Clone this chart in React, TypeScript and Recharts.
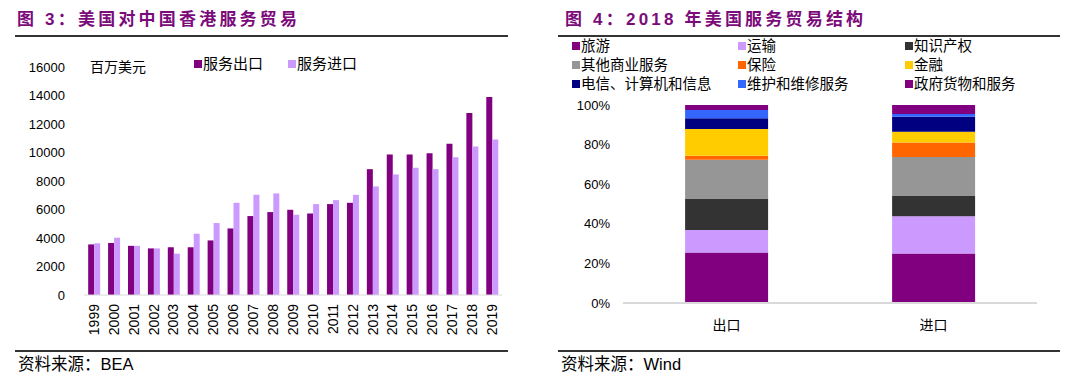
import React from "react";
import { BarChart, Bar, XAxis, YAxis } from "recharts";

// 图3 数据（百万美元）
const years = ["1999", "2000", "2001", "2002", "2003", "2004", "2005", "2006", "2007", "2008", "2009", "2010", "2011", "2012", "2013", "2014", "2015", "2016", "2017", "2018", "2019"];
const exportsHK = [3550, 3650, 3450, 3270, 3350, 3350, 3830, 4670, 5540, 5820, 5980, 5720, 6380, 6470, 8830, 9860, 9860, 9950, 10610, 12780, 13900];
const importsHK = [3630, 4020, 3450, 3270, 2900, 4300, 5050, 6470, 7030, 7130, 5630, 6380, 6660, 7030, 7620, 8460, 8930, 8830, 9670, 10420, 10910];
const leftTicks = [0, 2000, 4000, 6000, 8000, 10000, 12000, 14000, 16000];

// 图4 数据（占比 %）
const flows = ["出口", "进口"];
const sectors = ["旅游", "运输", "知识产权", "其他商业服务", "保险", "金融", "电信、计算机和信息", "维护和维修服务", "政府货物和服务"];
const sectorColors = ["#800080", "#cc99ff", "#333333", "#969696", "#ff6600", "#ffcc00", "#000080", "#3366ff", "#800080"];
const exportShare = [25.5, 11.4, 15.9, 19.6, 2.0, 13.5, 5.4, 4.2, 2.5];
const importShare = [25.0, 18.8, 10.3, 19.6, 7.4, 5.4, 7.6, 1.3, 4.6];
const rightTicks = [0, 0.2, 0.4, 0.6, 0.8, 1];

const FONT = '"Liberation Sans", "Noto Sans CJK SC", sans-serif';
const PURPLE = "#800080";
const LILAC = "#cc99ff";

const leftData = years.map((y, i) => ({ year: y, exp: exportsHK[i], imp: importsHK[i] }));
const rightData = flows.map((f, fi) => {
  const row: any = { flow: f };
  const src = fi === 0 ? exportShare : importShare;
  sectors.forEach((s, i) => (row["s" + i] = src[i]));
  return row;
});

const YearTick = ({ x, y, payload }: any) => (
  <text
    x={x}
    y={y}
    transform={`rotate(-90 ${x} ${y})`}
    textAnchor="end"
    dy="0.35em"
    fontSize={14}
    fill="#000"
    fontFamily={FONT}
  >
    {payload.value}
  </text>
);

const Title = ({ left, text }: { left: number; text: string }) => (
  <div
    style={{
      position: "absolute",
      left,
      top: 8,
      fontSize: 17,
      fontWeight: 700,
      letterSpacing: 3.2,
      color: "#7b0b7b",
      fontFamily: FONT,
      whiteSpace: "nowrap",
      lineHeight: "24px",
    }}
  >
    {text}
  </div>
);

const HLine = ({ left, top, width }: { left: number; top: number; width: number }) => (
  <div style={{ position: "absolute", left, top, width, height: 2, background: "#333" }} />
);

const Source = ({ left, text }: { left: number; text: string }) => (
  <div style={{ position: "absolute", left, top: 354, fontSize: 16.5, fontFamily: FONT, color: "#000", lineHeight: "20px" }}>
    {text}
  </div>
);

const Swatch = ({ color }: { color: string }) => (
  <span style={{ display: "inline-block", width: 8, height: 8, background: color, marginRight: 1, verticalAlign: "middle", position: "relative", top: -1 }} />
);

export default function App() {
  return (
    <div style={{ position: "absolute", left: 0, top: 0, width: 1080, height: 389, background: "#fff", fontFamily: FONT, overflow: "hidden" }}>
      <Title left={17} text="图 3：美国对中国香港服务贸易" />
      <HLine left={15} top={35} width={493} />
      <Title left={565} text="图 4：2018 年美国服务贸易结构" />
      <HLine left={558} top={35} width={502} />

      {/* 左图 */}
      <div style={{ position: "absolute", left: 0, top: 0 }}>
        <BarChart width={540} height={389} data={leftData} margin={{ top: 67, right: 38, bottom: 0, left: 0 }} barGap={0} barCategoryGap="21%">
          <XAxis
            dataKey="year"
            height={94}
            interval={0}
            tick={<YearTick />}
            tickSize={0}
            tickMargin={9}
            axisLine={{ stroke: "#d9d9d9" }}
          />
          <YAxis
            width={84}
            domain={[0, 16000]}
            ticks={leftTicks}
            axisLine={false}
            tickLine={false}
            tickSize={0}
            tickMargin={19}
            tick={{ fontSize: 13, fill: "#000", fontFamily: FONT }}
          />
          <Bar dataKey="exp" fill={PURPLE} isAnimationActive={false} />
          <Bar dataKey="imp" fill={LILAC} isAnimationActive={false} />
        </BarChart>
      </div>
      <div style={{ position: "absolute", left: 90, top: 57, fontSize: 14, lineHeight: "20px", color: "#000" }}>百万美元</div>
      <div style={{ position: "absolute", left: 194, top: 54, fontSize: 15, lineHeight: "20px", color: "#000", whiteSpace: "nowrap" }}>
        <Swatch color={PURPLE} />服务出口
        <span style={{ display: "inline-block", width: 25 }} />
        <Swatch color={LILAC} />服务进口
      </div>

      {/* 右图 */}
      <div style={{ position: "absolute", left: 540, top: 0 }}>
        <BarChart width={540} height={389} data={rightData} stackOffset="expand" margin={{ top: 105, right: 43, bottom: 0, left: 0 }} barCategoryGap="30%">
          <XAxis
            dataKey="flow"
            height={86}
            tickLine={false}
            tickSize={0}
            tickMargin={17}
            axisLine={{ stroke: "#d9d9d9", strokeWidth: 2 }}
            tick={{ fontSize: 14, fill: "#000", fontFamily: FONT }}
          />
          <YAxis
            width={83}
            domain={[0, 1]}
            ticks={rightTicks}
            axisLine={false}
            tickLine={false}
            tickSize={0}
            tickMargin={13}
            tickFormatter={(v: number) => `${Math.round(v * 100)}%`}
            tick={{ fontSize: 13, fill: "#000", fontFamily: FONT }}
          />
          {sectors.map((s, i) => (
            <Bar key={s} dataKey={"s" + i} stackId="a" fill={sectorColors[i]} isAnimationActive={false} />
          ))}
        </BarChart>
      </div>
      {sectors.map((s, i) => (
        <div
          key={s}
          style={{
            position: "absolute",
            left: [572, 738, 905][i % 3],
            top: 37 + Math.floor(i / 3) * 19,
            fontSize: 14.5,
            lineHeight: "19px",
            color: "#000",
            whiteSpace: "nowrap",
          }}
        >
          <Swatch color={sectorColors[i]} />
          {s}
        </div>
      ))}

      <HLine left={15} top={350} width={493} />
      <HLine left={558} top={350} width={502} />
      <Source left={18} text="资料来源：BEA" />
      <Source left={561} text="资料来源：Wind" />
    </div>
  );
}
